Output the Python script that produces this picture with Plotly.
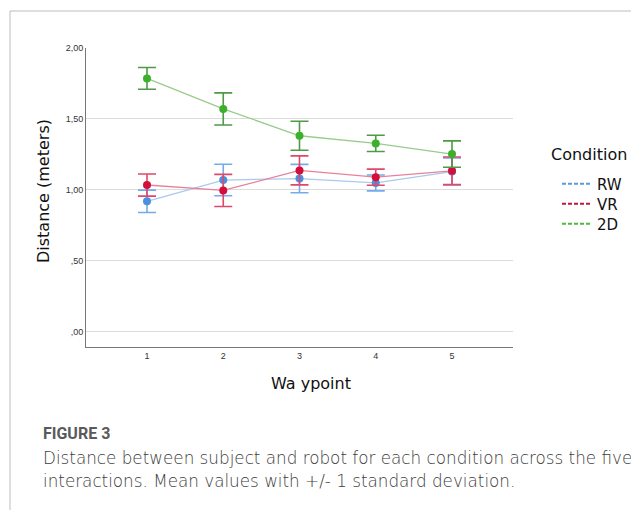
import plotly.graph_objects as go

waypoints = [1, 2, 3, 4, 5]
tick_vals_y = [0.0, 0.5, 1.0, 1.5, 2.0]
tick_text_y = [",00", ",50", "1,00", "1,50", "2,00"]

conditions = ["RW", "VR", "2D"]
rw_mean = [0.92, 1.07, 1.08, 1.05, 1.13]
rw_sd = [0.079, 0.111, 0.100, 0.056, 0.095]
vr_mean = [1.035, 0.997, 1.138, 1.09, 1.135]
vr_sd = [0.078, 0.113, 0.102, 0.057, 0.097]
d2_mean = [1.786, 1.571, 1.382, 1.328, 1.253]
d2_sd = [0.077, 0.113, 0.102, 0.057, 0.093]

W, H = 639, 510
OFF = 8  # page body margin
# plot area in screen (reference) pixel coordinates
PX0, PX1, PY0, PY1 = 86, 513, 48, 347
L, T = PX0 - OFF, PY0 - OFF
pw, ph = PX1 - PX0, PY1 - PY0
R, B = W - L - pw, H - T - ph

def px(x):
    return (x - PX0) / pw

def py(y):
    return (PY1 - y) / ph

styles = {
    "RW": dict(mean=rw_mean, sd=rw_sd, line="#a9c9ee", marker="#4a8fe0", err="#74abea", leg="#5b9bd9"),
    "VR": dict(mean=vr_mean, sd=vr_sd, line="#e8809a", marker="#d20f3c", err="#e0486a", leg="#c0163f"),
    "2D": dict(mean=d2_mean, sd=d2_sd, line="#98cc8c", marker="#3cb02c", err="#4e9a46", leg="#4cbb3c"),
}
legend_ids = {"RW": "legend", "VR": "legend2", "2D": "legend3"}
legend_rows = {"RW": 184, "VR": 204, "2D": 224}

fig = go.Figure()
for c in conditions:
    s = styles[c]
    fig.add_trace(go.Scatter(
        x=waypoints, y=s["mean"], mode="lines+markers",
        line=dict(color=s["line"], width=1.3),
        marker=dict(color=s["marker"], size=8),
        error_y=dict(type="data", array=s["sd"], visible=True, color=s["err"], thickness=1.6, width=9),
        showlegend=False, hoverinfo="skip",
    ))
for c in conditions:
    s = styles[c]
    fig.add_trace(go.Scatter(
        x=[None], y=[None], mode="lines", name=c, legend=legend_ids[c],
        line=dict(color=s["leg"], width=2, dash="4px,2px"),
        showlegend=True,
    ))

title_font = dict(family="DejaVu Sans", size=16, color="#111")
tick_font = dict(family="Liberation Sans Narrow, Liberation Sans", size=9, color="#333")
cap_font = dict(family="DejaVu Sans", size=16.8, color="#3c3c3c", weight=300)
leg_font = dict(family="DejaVu Sans", size=15, color="#111")

legends = {}
for c in conditions:
    legends[legend_ids[c]] = dict(
        x=px(557), y=py(legend_rows[c]), xanchor="left", yanchor="middle",
        font=leg_font, itemwidth=30, bgcolor="rgba(0,0,0,0)",
    )

fig.update_layout(
    width=W, height=H,
    margin=dict(l=L, r=R, t=T, b=B, pad=0),
    paper_bgcolor="white", plot_bgcolor="white",
    font=dict(family="DejaVu Sans", color="#222"),
    xaxis=dict(
        range=[0.2, 5.8], tickvals=waypoints, ticktext=[str(w) for w in waypoints],
        showgrid=False, zeroline=False, showline=True, linecolor="#777", linewidth=1,
        ticks="", tickfont=tick_font,
    ),
    yaxis=dict(
        range=[-0.106, 2.0], tickvals=tick_vals_y, ticktext=tick_text_y,
        showgrid=True, gridcolor="#dcdcdc", gridwidth=1, zeroline=False,
        showline=True, linecolor="#777", linewidth=1, ticks="",
        tickfont=tick_font,
    ),
    **legends,
    shapes=[
        dict(type="line", xref="paper", yref="paper", x0=px(10), x1=px(10), y0=py(11), y1=py(520),
             line=dict(color="#bdbdbd", width=1)),
        dict(type="line", xref="paper", yref="paper", x0=px(10), x1=px(650), y0=py(11), y1=py(11),
             line=dict(color="#bdbdbd", width=1)),
    ],
    annotations=[
        dict(text="Distance (meters)", xref="paper", yref="paper", x=px(43), y=py(191), textangle=-90,
             xanchor="center", yanchor="middle", showarrow=False, font=title_font),
        dict(text="Wa ypoint", xref="paper", yref="paper", x=px(311), y=py(383),
             xanchor="center", yanchor="middle", showarrow=False, font=title_font),
        dict(text="Condition", xref="paper", yref="paper", x=px(549), y=py(154), xanchor="left", yanchor="middle",
             showarrow=False, font=title_font),
        dict(text="<b>FIGURE 3</b>", xref="paper", yref="paper", x=px(41), y=py(433), xanchor="left", yanchor="middle",
             showarrow=False, font=dict(family="Roboto", size=16, color="#5a5a5a")),
        dict(text="Distance between subject and robot for each condition across the five",
             xref="paper", yref="paper", x=px(41), y=py(458), xanchor="left", yanchor="middle",
             showarrow=False, font=cap_font),
        dict(text="interactions. Mean values with +/- 1 standard deviation.",
             xref="paper", yref="paper", x=px(41), y=py(481), xanchor="left", yanchor="middle",
             showarrow=False, font=cap_font),
    ],
)

fig.write_html("out.html")
